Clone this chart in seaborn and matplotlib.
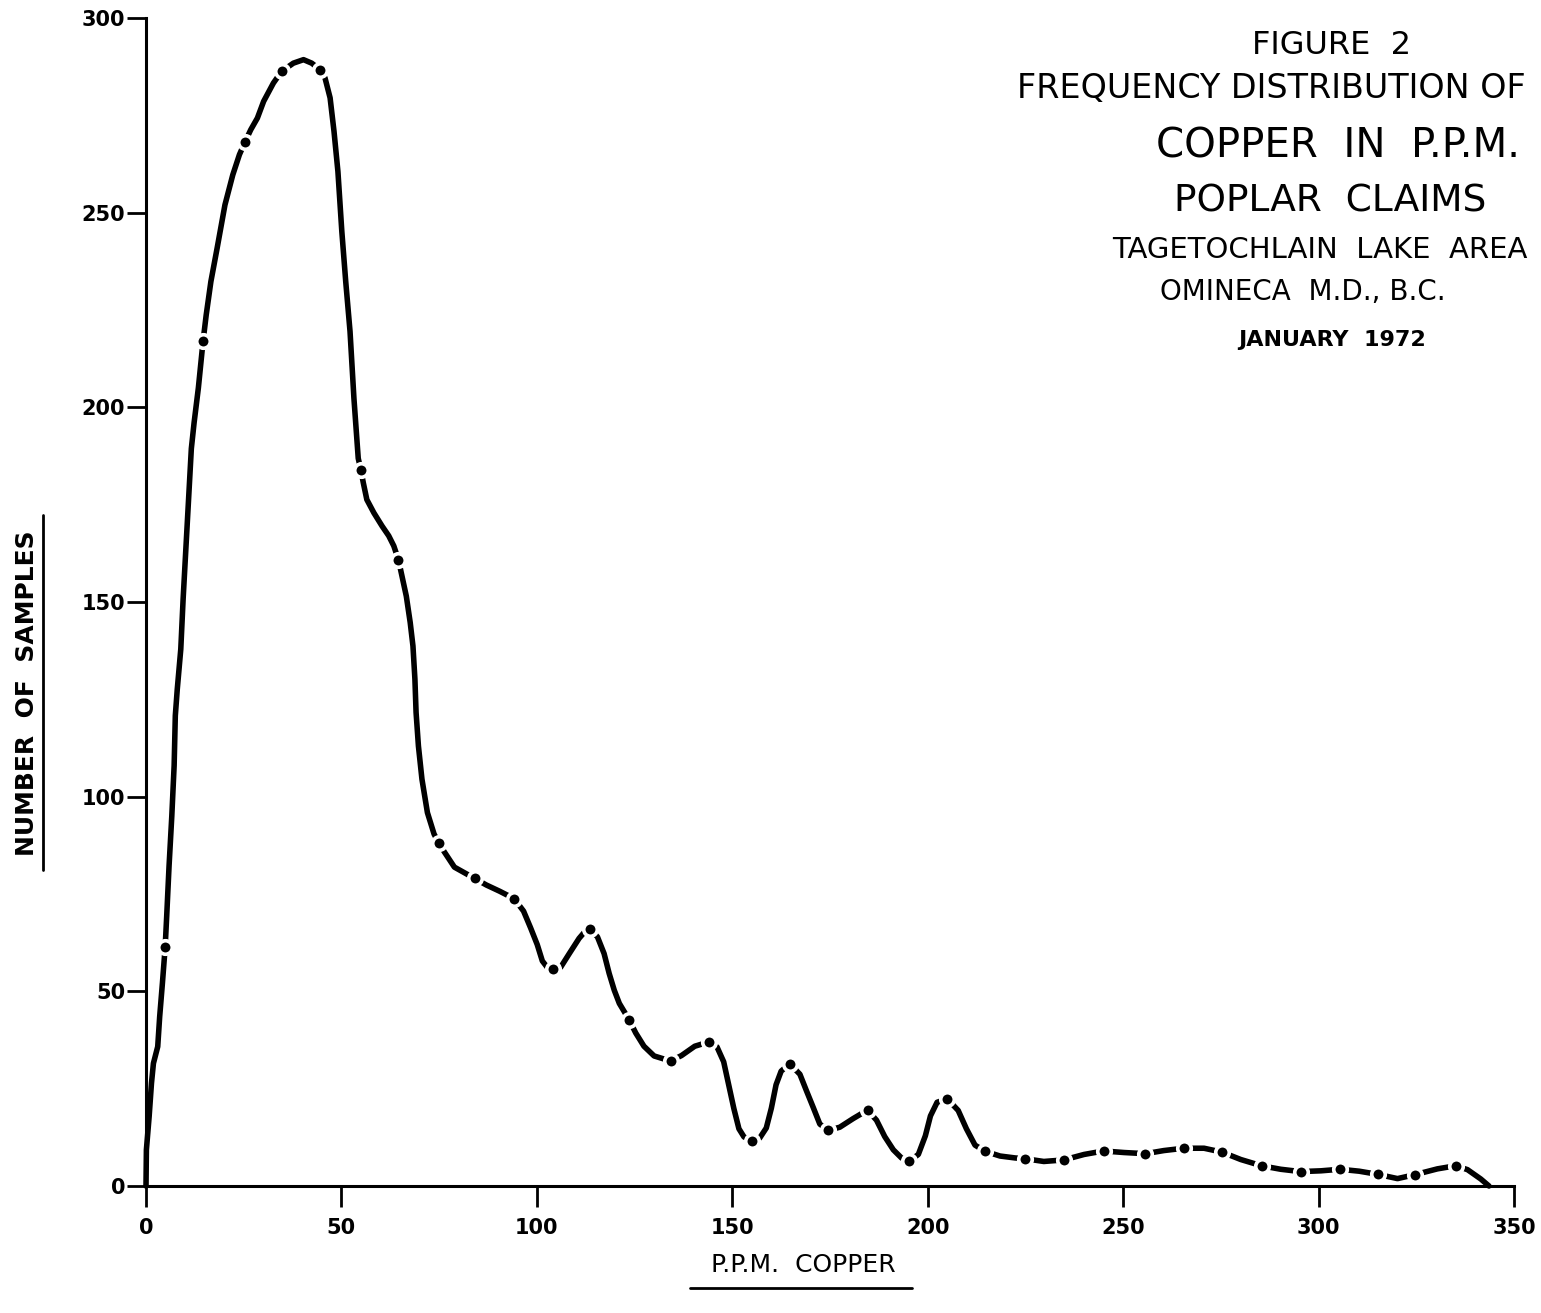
# Figure 2 - frequency distribution of copper (ppm), Poplar claims

import matplotlib
matplotlib.use("Agg")
import matplotlib.pyplot as plt
from matplotlib.lines import Line2D
import seaborn as sns

# ------------------ Data ------------------

# class mid-points (ppm, as plotted) and number of samples (the dots)
class_mid = [4.9, 14.6, 25.3, 34.7, 44.6, 55.0, 64.6, 74.9, 84.1, 94.2, 104.2,
             113.6, 123.6, 134.2, 144.0, 155.1, 164.7, 174.6, 184.6, 195.3,
             205.0, 214.7, 225.0, 234.8, 245.0, 255.7, 265.5, 275.3, 285.4,
             295.4, 305.5, 315.1, 324.6, 335.1]
class_count = [61.3, 217, 268.1, 286.3, 286.7, 183.8, 160.8, 88.1, 79.0, 73.8,
               55.7, 65.9, 42.7, 32.1, 37.0, 11.6, 31.4, 14.3, 19.5, 6.4, 22.4,
               8.9, 7.0, 6.7, 9.0, 8.3, 9.7, 8.7, 5.2, 3.7, 4.3, 3.0, 2.9, 5.2]

# hand drawn curve traced through the dots
curve_ppm = [0, 0.1, 0.8, 1.4, 1.9, 3.0, 3.5, 4.2, 4.9,
             5.3, 5.9, 6.6, 7.2, 7.5, 8.0, 8.9, 9.5, 10.2, 10.9, 11.6, 12.3,
             13.4, 14.6, 15.4, 16.6, 18.2, 20.2, 22.2, 23.9, 25.3, 26.8, 28.5,
             30.1, 32.6, 34.7, 37.7, 40.3, 42.4, 44.6, 45.8, 47.1, 48.1, 49.1,
             50.1, 51.1, 52.2, 53.2, 54.3, 55.0,
             55.6, 56.5, 58.3, 60.4, 62.1, 63.4, 64.6, 65.3, 66.6, 67.6, 68.3,
             68.8, 69.1, 69.7, 70.6, 72.0, 73.7, 74.9, 76.4, 78.9, 84.1, 87.1,
             90.5, 94.2,
             96.6, 98.4, 100.1, 101.4, 102.7, 104.2, 106.1, 108.3, 110.8, 112.5,
             113.6, 115.5, 117.2, 118.5, 119.8, 121.1, 123.6, 125.3, 127.4,
             130.0, 134.2, 137.0, 140.4, 144.0, 146.1, 147.8, 149.1, 150.4,
             151.7, 153.0, 155.1, 157.0, 158.7, 160.0, 161.2, 162.5, 164.7,
             167.3, 169.0, 170.7, 172.4, 174.6, 177.5, 180.9, 184.6, 186.9,
             189.0, 191.2, 193.3, 195.3, 197.6, 199.4, 200.7, 202.4, 205.0,
             207.8, 209.9, 212.1, 214.7, 218.5, 222.4, 225.0, 229.7, 234.8,
             240.0, 245.0, 250.2, 255.7, 260.4, 265.5, 270.7, 275.3, 280.1,
             285.4, 290.3, 295.4, 300.6, 305.5, 310.4, 315.1, 320.2, 324.6,
             330.4, 335.1, 338.1, 341.5, 343.6]
curve_count = [0, 9.3, 17.8, 26.4, 31.5, 35.8, 43.5, 52.1, 61.3,
               69.4, 82.2, 95, 108, 120.8, 127.6, 137.9, 150.8, 163.6, 176.5,
               189.4, 196, 205, 217, 223.7, 232.3, 240.9, 252, 259.7, 264.9,
               268.1, 271.3, 274.3, 278.6, 283.3, 286.3, 288.4, 289.3, 288.4,
               286.7, 284.6, 279.5, 270.9, 260.6, 245.2, 232.3, 219.5, 202.3,
               186.9, 183.8,
               180.6, 176.3, 172.9, 169.5, 167, 164.4, 160.8, 157.5, 151.5,
               144.7, 138.7, 130.2, 121.6, 113, 104.5, 95.9, 90.4, 88.1, 85.7,
               81.9, 79.0, 77.3, 75.7, 73.8,
               70.6, 66.3, 62.0, 57.8, 56.1, 55.7, 56.2, 59.7, 63.6, 65.6, 65.9,
               64.0, 59.7, 54.6, 50.3, 46.9, 42.7, 39.3, 35.9, 33.4, 32.1, 33.5,
               35.9, 37.0, 35.7, 31.9, 25.9, 19.9, 14.7, 12.6, 11.6, 12.3, 14.9,
               20.0, 26.0, 29.5, 31.4,
               28.7, 24.4, 20.2, 15.9, 14.3, 15.1, 17.3, 19.5, 16.9, 12.7, 9.3,
               7.2, 6.4, 8.1, 12.9, 18.0, 21.5, 22.4, 19.4, 14.7, 10.5, 8.9, 7.7,
               7.2, 7.0, 6.3, 6.7, 8.1, 9.0, 8.6, 8.3, 9.1, 9.7, 9.7, 8.7, 6.8,
               5.2, 4.3, 3.7, 3.9, 4.3, 3.8, 3.0, 1.9, 2.9, 4.4, 5.2, 4.2, 1.8, 0]

x_ticks = [0, 50, 100, 150, 200, 250, 300, 350]
y_ticks = [0, 50, 100, 150, 200, 250, 300]

title_lines = ["FIGURE  2", "FREQUENCY DISTRIBUTION OF", "COPPER  IN  P.P.M.",
               "POPLAR  CLAIMS", "TAGETOCHLAIN  LAKE  AREA",
               "OMINECA  M.D., B.C.", "JANUARY  1972"]

# ------------------ Style ------------------

sns.set_theme(style="white")
plt.rcParams["font.family"] = ["DejaVu Sans"]
plt.rcParams["text.color"] = "black"

W, H = 1541, 1313
fig = plt.figure(figsize=(W / 100, H / 100), dpi=100)
ax = fig.add_axes([146 / W, 1 - 1186 / H, (1514 - 146) / W, (1186 - 18) / H])

# ------------------ Curve and dots ------------------

sns.lineplot(x=curve_ppm, y=curve_count, sort=False, estimator=None,
             color="black", linewidth=4.0, ax=ax, clip_on=False,
             solid_joinstyle="round", solid_capstyle="round")
sns.scatterplot(x=class_mid, y=class_count, s=95, color="black",
                edgecolor="white", linewidth=2.6, zorder=3, ax=ax, clip_on=False)

# ------------------ Axes ------------------

ax.set_xlim(0, 350)
ax.set_ylim(0, 300)
ax.set_xticks(x_ticks)
ax.set_yticks(y_ticks)
ax.set_xticklabels([str(v) for v in x_ticks], fontsize=15, fontweight="bold")
ax.set_yticklabels([str(v) for v in y_ticks], fontsize=15, fontweight="bold")
ax.tick_params(axis="x", direction="out", length=15, width=2, pad=8,
               bottom=True, colors="black")
ax.tick_params(axis="y", direction="out", length=14, width=2, pad=1,
               left=True, colors="black")

for side in ["top", "right"]:
    ax.spines[side].set_visible(False)
for side in ["left", "bottom"]:
    ax.spines[side].set_color("black")
    ax.spines[side].set_linewidth(2.2)

ax.set_xlabel("")
ax.set_ylabel("")
ax.grid(False)

# axis titles with underline
fig.text(803 / W, 1 - 1265 / H, "P.P.M.  COPPER", fontsize=18,
         ha="center", va="center")
fig.add_artist(Line2D([690 / W, 912 / W], [1 - 1288 / H, 1 - 1288 / H],
                      color="black", linewidth=2))
fig.text(27 / W, 1 - 693 / H, "NUMBER  OF  SAMPLES", fontsize=18,
         fontweight="bold", rotation=90, ha="center", va="center")
fig.add_artist(Line2D([43 / W, 43 / W], [1 - 515 / H, 1 - 870 / H],
                      color="black", linewidth=2))

# ------------------ Title block ------------------

fig.text(1332 / W, 1 - 45 / H, title_lines[0], fontsize=23, ha="center", va="center")
fig.text(1017 / W, 1 - 88 / H, title_lines[1], fontsize=24, ha="left", va="center")
fig.text(1338 / W, 1 - 146 / H, title_lines[2], fontsize=29, ha="center", va="center")
fig.text(1330 / W, 1 - 202 / H, title_lines[3], fontsize=27, ha="center", va="center")
fig.text(1112 / W, 1 - 250 / H, title_lines[4], fontsize=21, ha="left", va="center")
fig.text(1303 / W, 1 - 292 / H, title_lines[5], fontsize=20, ha="center", va="center")
fig.text(1332 / W, 1 - 340 / H, title_lines[6], fontsize=16, fontweight="bold",
         ha="center", va="center")

fig.savefig("out.png", dpi=100)
